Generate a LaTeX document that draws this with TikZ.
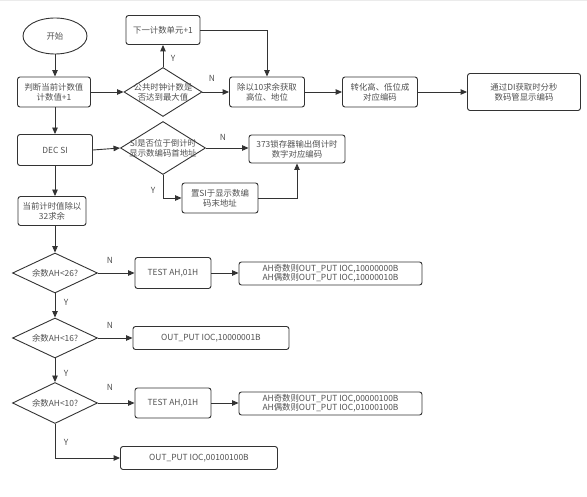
\documentclass[tikz,border=0pt]{standalone}
\usepackage{fontspec}
\setmainfont{Noto Sans CJK SC}
\usetikzlibrary{shapes.geometric,arrows.meta}
\definecolor{lc}{HTML}{333333}
\definecolor{tc}{HTML}{505050}
\tikzset{
  box/.style={draw=lc, rounded corners=2.5pt, line width=0.9pt, align=center, inner sep=0pt, text=tc},
  dia/.style={draw=lc, diamond, line width=0.9pt, inner sep=0pt},
  arr/.style={draw=lc, line width=0.9pt, -{Triangle[length=6.5pt,width=5.5pt]}},
  lab/.style={text=tc},
  dtext/.style={text=tc, align=center}
}
\begin{document}
\begin{tikzpicture}[x=1pt,y=-1pt,font=\fontsize{8.4}{10}\selectfont]
\useasboundingbox (0,0) rectangle (587,497);
\draw[black!8] (0,0.5) -- (587,0.5);
% nodes
\node[draw=lc, ellipse, line width=0.9pt, minimum width=64pt, minimum height=36pt, inner sep=0pt, text=tc] (start) at (55,36) {开始};
\node[box, minimum width=73pt, minimum height=30pt] (b1) at (54,92) {判断当前计数值\\计数值+1};
\node[dia, minimum width=78pt, minimum height=49pt] (d1) at (163,92) {};
\node[dtext] at (d1) {公共时钟计数是\\否达到最大值};
\node[box, minimum width=74pt, minimum height=29pt] (b2) at (163,30) {下一计数单元+1};
\node[box, minimum width=75pt, minimum height=30pt] (b3) at (267,92) {除以10求余获取\\高位、地位};
\node[box, minimum width=75pt, minimum height=30pt] (b4) at (380,92) {转化高、低位成\\对应编码};
\node[box, minimum width=113pt, minimum height=37pt] (b5) at (524,92) {通过DI获取时分秒\\数码管显示编码};
\node[box, minimum width=75pt, minimum height=31pt] (b6) at (55,150) {DEC SI};
\node[dia, minimum width=85pt, minimum height=53pt] (d2) at (163,148) {};
\node[dtext] at (d2) {SI是否位于倒计时\\显示数编码首地址};
\node[box, minimum width=96pt, minimum height=28pt] (b7) at (297,149) {373锁存器输出倒计时\\数字对应编码};
\node[box, minimum width=76pt, minimum height=30pt] (b8) at (220,198) {置SI于显示数编\\码末地址};
\node[box, minimum width=68pt, minimum height=29pt] (b9) at (52,211) {当前计时值除以\\32求余};
\node[dia, minimum width=85pt, minimum height=40pt] (d3) at (55,273) {};
\node[dtext] at (d3) {余数AH<26?};
\node[box, minimum width=76pt, minimum height=31pt] (b10) at (173,273) {TEST AH,01H};
\node[box, minimum width=183pt, minimum height=23pt, font=\fontsize{8.4}{9.2}\selectfont] (b11) at (330.5,273.5) {AH奇数则OUT\_PUT IOC,10000000B\\AH偶数则OUT\_PUT IOC,10000010B};
\node[dia, minimum width=85pt, minimum height=40pt] (d4) at (55,338) {};
\node[dtext] at (d4) {余数AH<16?};
\node[box, minimum width=156pt, minimum height=23pt] (b12) at (211,338) {OUT\_PUT IOC,10000001B};
\node[dia, minimum width=85pt, minimum height=41pt] (d5) at (55,403) {};
\node[dtext] at (d5) {余数AH<10?};
\node[box, minimum width=76pt, minimum height=30pt] (b13) at (173,403) {TEST AH,01H};
\node[box, minimum width=183pt, minimum height=23pt, font=\fontsize{8.4}{9.2}\selectfont] (b14) at (330.5,403.5) {AH奇数则OUT\_PUT IOC,00000100B\\AH偶数则OUT\_PUT IOC,01000100B};
\node[box, minimum width=157pt, minimum height=23pt] (b15) at (199,458) {OUT\_PUT IOC,00100100B};
% connectors
\draw[arr] (start.south) -- (start.south |- b1.north);
\draw[arr] (b1.east) -- (d1.west);
\draw[arr] (d1.north) -- (b2.south);
\node[lab] at (173,58) {Y};
\draw[arr] (d1.east) -- (b3.west);
\node[lab] at (212,78) {N};
\draw[arr] (b2.east) -| (b3.north);
\draw[arr] (b3.east) -- (b4.west);
\draw[arr] (b4.east) -- (b5.west);
\draw[arr] (b6.north |- b1.south) -- (b6.north);
\draw[arr] (b6.east) -- (d2.west);
\draw[arr] (d2.east) -- (d2.east -| b7.west);
\node[lab] at (223,137) {N};
\draw[arr] (d2.south) |- (b8.west);
\node[lab] at (153,190) {Y};
\draw[arr] (b8.east) -| (b7.south);
\draw[arr] (b6.south) -- (b6.south |- b9.north);
\draw[arr] (b6.south |- b9.south) -- (d3.north);
\draw[arr] (d3.east) -- (b10.west);
\node[lab] at (110,260) {N};
\draw[arr] (b10.east) -- (b11.west |- b10.east);
\draw[arr] (d3.south) -- (d4.north);
\node[lab] at (66,302) {Y};
\draw[arr] (d4.east) -- (b12.west);
\node[lab] at (110,325) {N};
\draw[arr] (d4.south) -- (d5.north);
\node[lab] at (66,373) {Y};
\draw[arr] (d5.east) -- (b13.west);
\node[lab] at (110,387) {N};
\draw[arr] (b13.east) -- (b14.west |- b13.east);
\draw[arr] (d5.south) |- (b15.west);
\node[lab] at (66,442) {Y};
\end{tikzpicture}
\end{document}
